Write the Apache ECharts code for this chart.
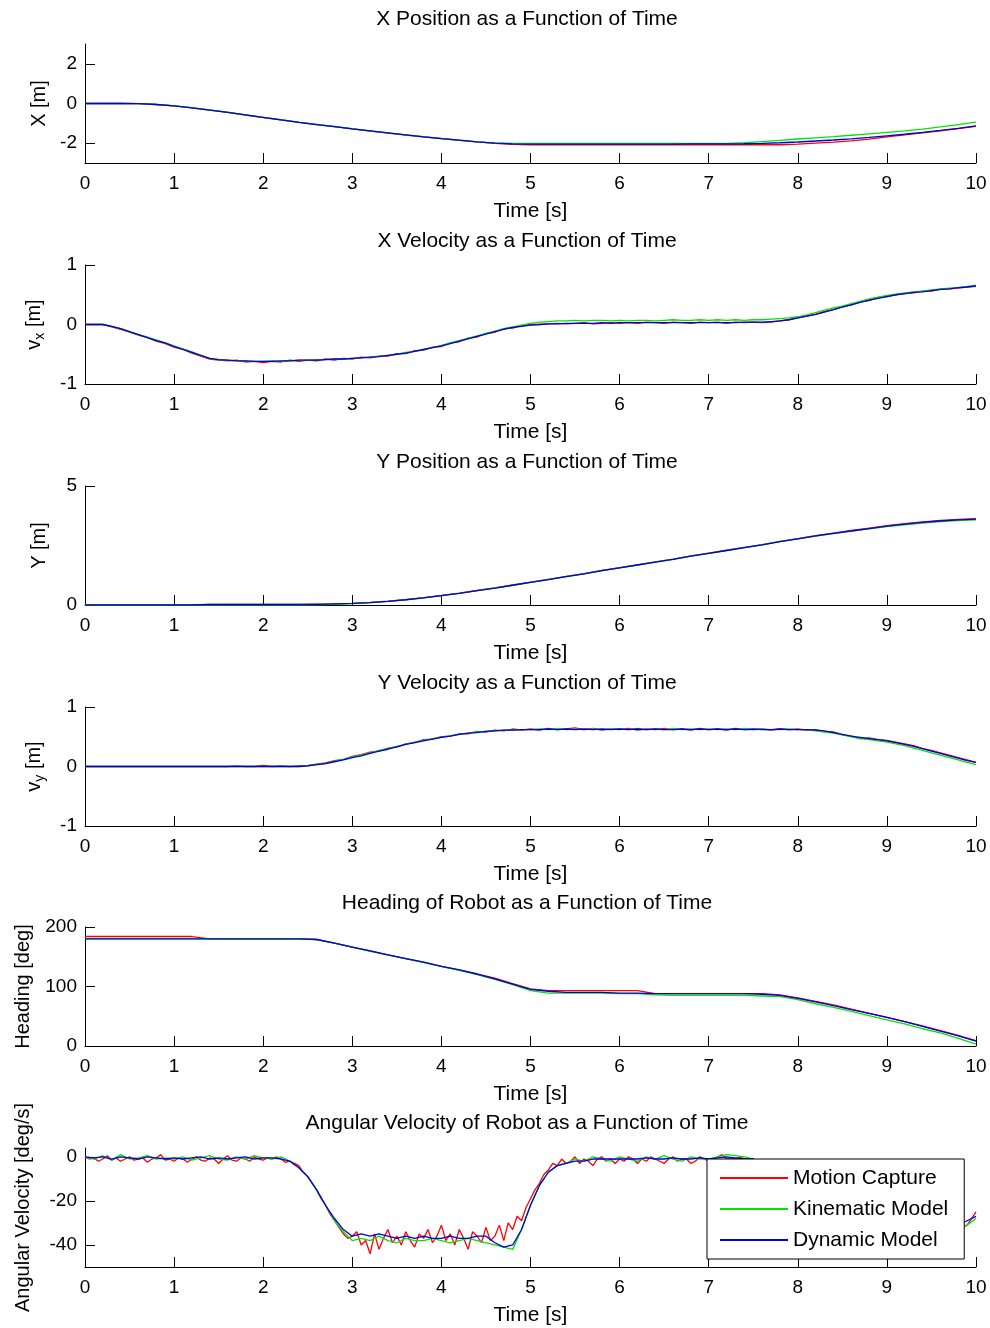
<!DOCTYPE html>
<html><head><meta charset="utf-8">
<script src="https://cdn.jsdelivr.net/npm/echarts@6/dist/echarts.min.js"></script>
<style>html,body{margin:0;padding:0;background:#fff}#c{width:990px;height:1328px}</style>
</head><body><div id="c"></div>
<script>
// ---------- time bases ----------
const t02 = [0,0.2,0.4,0.6,0.8,1,1.2,1.4,1.6,1.8,2,2.2,2.4,2.6,2.8,3,3.2,3.4,3.6,3.8,4,4.2,4.4,4.6,4.8,5,5.2,5.4,5.6,5.8,6,6.2,6.4,6.6,6.8,7,7.2,7.4,7.6,7.8,8,8.2,8.4,8.6,8.8,9,9.2,9.4,9.6,9.8,10];
const t01 = [0,0.1,0.2,0.3,0.4,0.5,0.6,0.7,0.8,0.9,
1,1.1,1.2,1.3,1.4,1.5,1.6,1.7,1.8,1.9,
2,2.1,2.2,2.3,2.4,2.5,2.6,2.7,2.8,2.9,
3,3.1,3.2,3.3,3.4,3.5,3.6,3.7,3.8,3.9,
4,4.1,4.2,4.3,4.4,4.5,4.6,4.7,4.8,4.9,
5,5.1,5.2,5.3,5.4,5.5,5.6,5.7,5.8,5.9,
6,6.1,6.2,6.3,6.4,6.5,6.6,6.7,6.8,6.9,
7,7.1,7.2,7.3,7.4,7.5,7.6,7.7,7.8,7.9,
8,8.1,8.2,8.3,8.4,8.5,8.6,8.7,8.8,8.9,
9,9.1,9.2,9.3,9.4,9.5,9.6,9.7,9.8,9.9,10];
const t005 = [0,0.05,0.1,0.15,0.2,0.25,0.3,0.35,0.4,0.45,0.5,0.55,0.6,0.65,0.7,0.75,0.8,0.85,0.9,0.95,
1,1.05,1.1,1.15,1.2,1.25,1.3,1.35,1.4,1.45,1.5,1.55,1.6,1.65,1.7,1.75,1.8,1.85,1.9,1.95,
2,2.05,2.1,2.15,2.2,2.25,2.3,2.35,2.4,2.45,2.5,2.55,2.6,2.65,2.7,2.75,2.8,2.85,2.9,2.95,
3,3.05,3.1,3.15,3.2,3.25,3.3,3.35,3.4,3.45,3.5,3.55,3.6,3.65,3.7,3.75,3.8,3.85,3.9,3.95,
4,4.05,4.1,4.15,4.2,4.25,4.3,4.35,4.4,4.45,4.5,4.55,4.6,4.65,4.7,4.75,4.8,4.85,4.9,4.95,
5,5.05,5.1,5.15,5.2,5.25,5.3,5.35,5.4,5.45,5.5,5.55,5.6,5.65,5.7,5.75,5.8,5.85,5.9,5.95,
6,6.05,6.1,6.15,6.2,6.25,6.3,6.35,6.4,6.45,6.5,6.55,6.6,6.65,6.7,6.75,6.8,6.85,6.9,6.95,
7,7.05,7.1,7.15,7.2,7.25,7.3,7.35,7.4,7.45,7.5,7.55,7.6,7.65,7.7,7.75,7.8,7.85,7.9,7.95,
8,8.05,8.1,8.15,8.2,8.25,8.3,8.35,8.4,8.45,8.5,8.55,8.6,8.65,8.7,8.75,8.8,8.85,8.9,8.95,
9,9.05,9.1,9.15,9.2,9.25,9.3,9.35,9.4,9.45,9.5,9.55,9.6,9.65,9.7,9.75,9.8,9.85,9.9,9.95,10];

// ---------- X position [m] (t02) ----------
const xPosMocap = [0,0,0,-0.01,-0.05,-0.12,-0.22,-0.33,-0.45,-0.58,-0.71,-0.83,-0.95,-1.06,-1.17,-1.28,-1.39,-1.49,-1.59,-1.68,-1.77,-1.86,-1.94,-2.01,-2.06,-2.08,
-2.08,-2.08,-2.08,-2.08,-2.08,-2.08,-2.08,-2.08,-2.08,-2.08,-2.08,-2.08,-2.08,-2.08,
-2.05,-2.0,-1.95,-1.88,-1.8,-1.68,-1.58,-1.48,-1.38,-1.27,-1.15];
const xPosKin = [0,0,0,-0.01,-0.05,-0.12,-0.21,-0.32,-0.44,-0.57,-0.70,-0.82,-0.94,-1.05,-1.16,-1.27,-1.38,-1.48,-1.58,-1.67,-1.76,-1.85,-1.93,-1.99,-2.01,-2.01,
-2.01,-2.01,-2.01,-2.01,-2.01,-2.01,-2.01,-2.01,-2.01,-2.01,-2.01,-1.98,-1.92,-1.86,
-1.79,-1.73,-1.67,-1.6,-1.53,-1.46,-1.38,-1.29,-1.18,-1.06,-0.94];
const xPosDyn = [0,0,0,-0.01,-0.05,-0.12,-0.22,-0.33,-0.45,-0.57,-0.70,-0.83,-0.95,-1.06,-1.17,-1.28,-1.38,-1.48,-1.58,-1.68,-1.77,-1.85,-1.93,-2.0,-2.04,-2.05,
-2.05,-2.05,-2.05,-2.05,-2.05,-2.05,-2.05,-2.05,-2.04,-2.04,-2.04,-2.03,-2.01,-1.98,
-1.94,-1.89,-1.84,-1.78,-1.71,-1.63,-1.55,-1.46,-1.36,-1.25,-1.13];

// ---------- X velocity [m/s] (t01) ----------
const vxMocap = [0,0,0,-0.04,-0.08,-0.13,-0.18,-0.22,-0.28,-0.32,
-0.38,-0.42,-0.48,-0.53,-0.58,-0.60,-0.61,-0.60,-0.63,-0.62,
-0.64,-0.62,-0.63,-0.60,-0.62,-0.60,-0.61,-0.58,-0.60,-0.57,
-0.58,-0.55,-0.56,-0.53,-0.53,-0.49,-0.49,-0.44,-0.43,-0.38,
-0.37,-0.31,-0.29,-0.23,-0.21,-0.15,-0.13,-0.07,-0.06,-0.02,
0.00,0.00,0.01,0.02,0.01,0.02,0.03,0.01,0.02,0.03,
0.02,0.03,0.02,0.04,0.03,0.02,0.04,0.03,0.02,0.04,
0.03,0.04,0.02,0.04,0.03,0.04,0.03,0.04,0.06,0.08,
0.11,0.14,0.17,0.22,0.25,0.30,0.33,0.38,0.40,0.45,
0.47,0.50,0.52,0.53,0.56,0.56,0.59,0.60,0.61,0.63,0.64];
const vxKin = [0,0,0,-0.03,-0.07,-0.12,-0.17,-0.21,-0.26,-0.31,
-0.36,-0.41,-0.46,-0.52,-0.57,-0.59,-0.60,-0.61,-0.61,-0.62,
-0.62,-0.61,-0.62,-0.61,-0.60,-0.60,-0.59,-0.59,-0.58,-0.58,
-0.57,-0.56,-0.55,-0.53,-0.52,-0.50,-0.47,-0.45,-0.42,-0.39,
-0.35,-0.31,-0.27,-0.23,-0.19,-0.15,-0.11,-0.07,-0.04,-0.01,
0.02,0.04,0.05,0.06,0.06,0.07,0.06,0.07,0.07,0.06,
0.07,0.06,0.07,0.07,0.06,0.07,0.08,0.07,0.07,0.08,
0.07,0.08,0.07,0.08,0.07,0.08,0.08,0.09,0.10,0.11,
0.13,0.16,0.20,0.24,0.28,0.31,0.35,0.39,0.43,0.46,
0.49,0.51,0.53,0.55,0.56,0.58,0.60,0.61,0.62,0.64,0.66];
const vxDyn = [0,0,0,-0.03,-0.07,-0.12,-0.17,-0.22,-0.27,-0.31,
-0.37,-0.42,-0.47,-0.52,-0.57,-0.59,-0.60,-0.61,-0.61,-0.62,
-0.62,-0.62,-0.61,-0.61,-0.60,-0.60,-0.60,-0.59,-0.58,-0.58,
-0.57,-0.56,-0.55,-0.54,-0.52,-0.50,-0.48,-0.45,-0.42,-0.39,
-0.36,-0.32,-0.28,-0.24,-0.20,-0.16,-0.12,-0.08,-0.05,-0.03,
-0.01,0.00,0.01,0.01,0.02,0.02,0.02,0.02,0.03,0.02,
0.03,0.03,0.03,0.03,0.03,0.03,0.03,0.03,0.03,0.03,
0.03,0.03,0.03,0.03,0.04,0.04,0.04,0.05,0.06,0.08,
0.11,0.14,0.17,0.21,0.25,0.29,0.33,0.37,0.41,0.44,
0.47,0.50,0.52,0.54,0.55,0.57,0.59,0.60,0.62,0.63,0.65];

// ---------- Y position [m] (t02) ----------
const yPosMocap = [0,0,0,0,0,0,0,0.02,0.03,0.03,0.03,0.03,0.03,
0.04,0.05,0.07,0.11,0.16,0.23,0.31,0.4,0.5,0.61,
0.72,0.84,0.96,1.08,1.2,1.32,1.45,1.57,1.69,1.81,
1.93,2.06,2.18,2.3,2.42,2.54,2.67,2.79,2.91,3.02,
3.13,3.23,3.33,3.42,3.49,3.55,3.6,3.63];
const yPosKin = [0,0,0,0,0,0,0,0,0,0,0,0,0,
0.01,0.03,0.06,0.1,0.15,0.22,0.3,0.39,0.49,0.6,
0.71,0.83,0.95,1.07,1.19,1.31,1.44,1.56,1.68,1.8,
1.92,2.05,2.17,2.29,2.41,2.53,2.66,2.78,2.89,3.0,
3.1,3.2,3.29,3.37,3.44,3.5,3.55,3.58];
const yPosDyn = [0,0,0,0,0,0,0,0.02,0.02,0.02,0.02,0.02,0.02,
0.03,0.05,0.07,0.1,0.15,0.22,0.3,0.39,0.49,0.6,
0.71,0.83,0.95,1.07,1.19,1.31,1.44,1.56,1.68,1.8,
1.92,2.05,2.17,2.29,2.41,2.53,2.66,2.78,2.9,3.01,
3.11,3.21,3.31,3.4,3.47,3.53,3.58,3.61];

// ---------- Y velocity [m/s] (t01) ----------
const vyMocap = [0,0,0,0,0,0,0,0,0,0,
0,0,0,0,0,0,0,0.01,0,0,
0.02,0,0.01,0,0.01,0.02,0.04,0.06,0.10,0.12,
0.17,0.20,0.24,0.26,0.31,0.33,0.38,0.40,0.45,0.46,
0.50,0.51,0.55,0.55,0.59,0.58,0.61,0.60,0.63,0.61,
0.63,0.61,0.64,0.62,0.63,0.65,0.62,0.64,0.61,0.63,
0.62,0.64,0.61,0.63,0.62,0.64,0.62,0.63,0.61,0.64,
0.62,0.63,0.61,0.64,0.62,0.62,0.63,0.61,0.63,0.62,
0.63,0.61,0.62,0.59,0.58,0.53,0.51,0.47,0.48,0.45,
0.44,0.41,0.38,0.35,0.30,0.27,0.23,0.19,0.15,0.11,0.07];
const vyKin = [0,0,0,0,0,0,0,0,0,0,
0,0,0,0,0,0,0,0,0,0,
0,0,0,0,0,0.01,0.03,0.05,0.09,0.12,
0.16,0.19,0.23,0.27,0.30,0.34,0.37,0.41,0.44,0.47,
0.49,0.52,0.54,0.56,0.58,0.59,0.60,0.61,0.61,0.62,
0.62,0.63,0.62,0.64,0.62,0.63,0.62,0.63,0.62,0.63,
0.63,0.62,0.64,0.62,0.63,0.62,0.64,0.62,0.63,0.62,
0.63,0.62,0.63,0.62,0.64,0.62,0.63,0.62,0.62,0.63,
0.62,0.62,0.60,0.58,0.56,0.53,0.50,0.47,0.45,0.43,
0.41,0.38,0.35,0.31,0.27,0.23,0.19,0.15,0.11,0.07,0.03];
const vyDyn = [0,0,0,0,0,0,0,0,0,0,
0,0,0,0,0,0,0,0,0,0,
0,0,0,0,0,0.01,0.03,0.05,0.08,0.11,
0.15,0.18,0.22,0.26,0.29,0.33,0.37,0.40,0.43,0.46,
0.49,0.51,0.54,0.56,0.57,0.59,0.60,0.61,0.61,0.62,
0.62,0.62,0.63,0.62,0.63,0.62,0.63,0.62,0.63,0.62,
0.63,0.62,0.63,0.62,0.63,0.62,0.62,0.63,0.62,0.63,
0.62,0.63,0.62,0.63,0.62,0.63,0.62,0.62,0.63,0.62,
0.62,0.62,0.61,0.60,0.57,0.54,0.51,0.49,0.47,0.45,
0.43,0.40,0.37,0.34,0.30,0.26,0.22,0.18,0.14,0.10,0.07];

// ---------- Heading [deg] (t02) ----------
const headMocap = [184,184,184,184,184,184,184,180,180,180,180,180,180,
179,173,166,160,153,147,141,134,128,121,
114,105,96,93,93,93,93,93,93,88,
88,88,88,88,88,88,86,81,75,69,
62,55,48,41,34,26,18,9];
const headKin = [180,180,180,180,180,180,180,180,180,180,180,180,180,
179,173,166,159,153,147,140,134,127,120,
112,103,93,89,89,89,89,88,88,86,
85,85,85,85,85,84,83,78,71,65,
58,51,44,37,29,22,13,3];
const headDyn = [180,180,180,180,180,180,180,180,180,180,180,180,180,
179,173,166,160,153,147,141,134,128,121,
113,104,95,92,90,90,90,89,89,88,
88,88,88,88,88,87,85,80,74,68,
61,55,48,41,33,25,17,8];

// ---------- Angular velocity [deg/s] ----------
const wMocap = [ // t005
0,-1,-0.5,-2,-1,0.5,-1.5,-0.5,-2,-1,0,-1.5,-1,-0.5,-2.5,-1,-0.5,1,-1.5,-1,
-2,-0.5,-1,-2.5,-1,0,-1.5,-2,-0.5,-1,-3,-1,0.5,-1.5,-2,-0.5,-1,-2,0,-1,
-1.5,-0.5,-1,0,-1,-2.5,-2,-3,-4,-7,-9,-12,-15,-19,-22,-26,-29,-32,-35,-37,
-36,-34,-40,-38,-44,-35,-42,-37,-33,-39,-36,-40,-34,-38,-41,-35,-37,-33,-39,-36,
-31,-38,-35,-40,-33,-37,-42,-34,-36,-39,-32,-38,-36,-31,-38,-30,-33,-27,-29,-23,
-19,-15,-12,-8,-6,-3,-4,-1,-3,-2,0,-3,-1,-2,-4,-1,0,-2,-1,-3,
-1,-2,0,-1,-3,-1,-2,0,-1,-2,-3,-1,0,-2,-1,-1,-3,-2,0,-1,
-2,-1,0,1,-1,-0.5,-1,0,-1,-2,-1,-3,-6,-10,-14,-18,-22,-26,-30,-33,
-35,-37,-36,-38,-35,-37,-39,-36,-38,-35,-37,-39,-36,-38,-37,-35,-38,-36,-37,-39,
-36,-38,-35,-37,-39,-36,-37,-38,-35,-37,-36,-35,-36,-34,-35,-33,-33,-32,-31,-28,-25];
const wKin = [ // t01
0,-1,0.5,-1.5,1,-1,-0.5,0.5,-1,-0.5,
-1,0,-1.5,-0.5,0.5,-1,-1.5,0,-1,0.5,
-0.5,-1,0,-2,-5,-9,-15,-22,-29,-34,
-38,-37,-38,-36,-38,-39,-37,-38,-38,-37,
-38,-39,-38,-37,-38,-39,-40,-41,-42,-33,
-22,-13,-7,-4,-3,-1,-2,0,-1,-2,
0,-1,-2,0,-1,0.5,-1,-2,0,-1,
-1,0,1,0.5,0,-1,-3,-7,-14,-22,
-29,-34,-36,-37,-36,-38,-37,-36,-38,-37,
-38,-37,-36,-38,-37,-36,-35,-34,-33,-31,-28];
const wDyn = [ // t01
0,-0.5,0,-1,0,-0.5,-1,0,-0.5,-1,
-0.5,-1,-0.5,0,-1,-0.5,-1,-0.5,0,-1,
-0.5,-0.5,-1,-2,-5,-9,-15,-22,-28,-33,
-36,-35,-36,-35,-36,-37,-36,-37,-36,-37,
-37,-36,-37,-37,-36,-36,-39,-41,-40,-33,
-22,-13,-7,-4,-3,-2,-2,-1,-1,-1,
-1,-1,-1,-0.5,-1,-1,-0.5,-1,-1,-0.5,
-1,-0.5,0,-0.5,-1,-1,-3,-7,-13,-21,
-28,-33,-36,-37,-37,-37,-37,-37,-37,-37,
-37,-37,-36,-36,-35,-34,-33,-32,-31,-29,-27];

// ---------- labels ----------
const seriesNames = ['Motion Capture', 'Kinematic Model', 'Dynamic Model'];
const titles = ['X Position as a Function of Time','X Velocity as a Function of Time','Y Position as a Function of Time',
  'Y Velocity as a Function of Time','Heading of Robot as a Function of Time','Angular Velocity of Robot as a Function of Time'];
const yNames = ['X [m]', '{n|v}{s|x}{n| [m]}', 'Y [m]', '{n|v}{s|y}{n| [m]}', 'Heading [deg]', 'Angular Velocity [deg/s]'];
const yRanges = [[-3,3],[-1,1],[0,5],[-1,1],[0,200],[-50,4]];
const yTickVals = [[-2,0,2],[-1,0,1],[0,5],[-1,0,1],[0,100,200],[-40,-20,0]];
const xTickLabel = 'Time [s]';

// ---------- layout / style ----------
const FONT = "'Liberation Sans', Arial, Helvetica, sans-serif";
const COLORS = ['#ff0000', '#00e600', '#0000e0'];
const tops = [44, 265, 486, 707, 927, 1148];
const H = 119;
const titleY = [19, 241, 462, 683, 903, 1123];
const nameGaps = [36, 38, 36, 38, 52, 52];
const panelData = [
  [[t02,xPosMocap],[t02,xPosKin],[t02,xPosDyn]],
  [[t01,vxMocap],[t01,vxKin],[t01,vxDyn]],
  [[t02,yPosMocap],[t02,yPosKin],[t02,yPosDyn]],
  [[t01,vyMocap],[t01,vyKin],[t01,vyDyn]],
  [[t02,headMocap],[t02,headKin],[t02,headDyn]],
  [[t005,wMocap],[t01,wKin],[t01,wDyn]]
];
const zip = (t, v) => t.map((x, i) => [x, v[i]]);

const grid = [], xAxis = [], yAxis = [], series = [];
tops.forEach((top, i) => {
  grid.push({left: 85, right: 14, top: top, height: H});
  xAxis.push({
    type: 'value', gridIndex: i, min: 0, max: 10, interval: 1,
    name: xTickLabel, nameLocation: 'middle', nameGap: 38,
    nameTextStyle: {fontSize: 21, fontFamily: FONT, color: '#000'},
    axisLine: {onZero: false, lineStyle: {color: '#000', width: 1}},
    axisTick: {inside: true, length: 10, lineStyle: {color: '#000'}},
    axisLabel: {fontSize: 19, fontFamily: FONT, color: '#000', margin: 11},
    splitLine: {show: false}
  });
  yAxis.push({
    type: 'value', gridIndex: i, min: yRanges[i][0], max: yRanges[i][1],
    name: yNames[i], nameLocation: 'middle', nameGap: nameGaps[i],
    nameTextStyle: {fontSize: 20, fontFamily: FONT, color: '#000',
      rich: {n: {fontSize: 20, fontFamily: FONT, color: '#000', lineHeight: 26, verticalAlign: 'middle'},
             s: {fontSize: 14, fontFamily: FONT, color: '#000', lineHeight: 26, verticalAlign: 'bottom'}}},
    axisLine: {show: true, onZero: false, lineStyle: {color: '#000', width: 1}},
    axisTick: {show: true, inside: true, length: 10, lineStyle: {color: '#000'}, customValues: yTickVals[i]},
    axisLabel: {fontSize: 19, fontFamily: FONT, color: '#000', margin: 8, customValues: yTickVals[i]},
    splitLine: {show: false}
  });
  panelData[i].forEach((pair, k) => {
    series.push({
      type: 'line', name: seriesNames[k], xAxisIndex: i, yAxisIndex: i,
      data: zip(pair[0], pair[1]), symbol: 'none', showSymbol: false,
      lineStyle: {color: COLORS[k], width: 1.3}, itemStyle: {color: COLORS[k]},
      animation: false, silent: true, clip: true
    });
  });
});

const chart = echarts.init(document.getElementById('c'), null, {renderer: 'canvas'});
chart.setOption({
  backgroundColor: '#fff',
  animation: false,
  grid, xAxis, yAxis, series,
  legend: {
    data: seriesNames, orient: 'vertical', left: 707, top: 1159,
    icon: 'rect', itemWidth: 68, itemHeight: 2, itemGap: 9,
    padding: [8, 16, 8, 13],
    backgroundColor: '#fff', borderColor: '#000', borderWidth: 1,
    textStyle: {fontSize: 21, fontFamily: FONT, color: '#000', lineHeight: 22},
    selectedMode: false
  },
  graphic: titles.map((txt, i) => ({
    type: 'text', x: 527, y: titleY[i], silent: true,
    style: {text: txt, fontSize: 21, fontFamily: FONT, fill: '#000', align: 'center', verticalAlign: 'middle'}
  }))
});
</script>
</body></html>
